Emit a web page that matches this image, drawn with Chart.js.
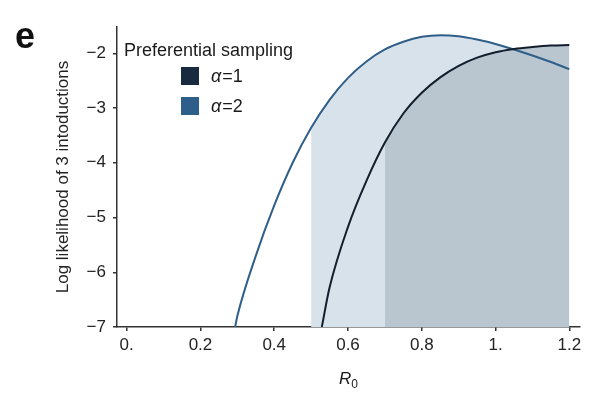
<!DOCTYPE html>
<html>
<head>
<meta charset="utf-8">
<script src="https://cdn.jsdelivr.net/npm/chart.js@4"></script>
<style>
  html, body { margin: 0; padding: 0; background: #fff; }
  #wrap { width: 596px; height: 404px; }
</style>
</head>
<body>
<div id="wrap"><canvas id="likelihood_chart" width="596" height="404"></canvas></div>
<script>
// R0 grid and log likelihood values
var r0Alpha1 = [0.529, 0.55, 0.60, 0.65, 0.70, 0.75, 0.80, 0.85, 0.90, 0.95, 1.00, 1.05, 1.10, 1.15, 1.20];
var llAlpha1 = [-7.0, -6.28, -5.17, -4.33, -3.63, -3.10, -2.72, -2.44, -2.23, -2.08, -1.98, -1.92, -1.885, -1.86, -1.85];

var r0Alpha2 = [0.294, 0.30, 0.35, 0.40, 0.45, 0.50, 0.55, 0.60, 0.65, 0.70, 0.75, 0.80, 0.85, 0.90, 0.95, 1.00, 1.05, 1.10, 1.15, 1.20];
var llAlpha2 = [-7.0, -6.80, -5.70, -4.78, -4.00, -3.36, -2.85, -2.45, -2.15, -1.93, -1.79, -1.70, -1.67, -1.69, -1.75, -1.83, -1.93, -2.04, -2.16, -2.29];

// shaded R0 ranges
var shadeAlpha1 = [0.7, 1.2];
var shadeAlpha2 = [0.5, 1.2];

var seriesLabels = ['1', '2'];
var lineColors = ['#121e2c', '#2f5f89'];
var boxColors = ['#172a40', '#2e5e8a'];
var fillColors = ['#b9c6cf', '#d8e2ea'];

var xTicks = [0, 0.2, 0.4, 0.6, 0.8, 1.0, 1.2];
var xTickLabels = ['0.', '0.2', '0.4', '0.6', '0.8', '1.', '1.2'];
var yTicks = [-7, -6, -5, -4, -3, -2];
var yTickLabels = ['\u22127', '\u22126', '\u22125', '\u22124', '\u22123', '\u22122'];

var FONT = '"Liberation Sans", Arial, Helvetica, sans-serif';

function toPoints(xs, ys) {
	return xs.map(function (x, i) { return { x: x, y: ys[i] }; });
}

function shadePoints(xs, ys, range) {
	return toPoints(xs, ys).filter(function (p) {
		return p.x >= range[0] - 1e-9 && p.x <= range[1] + 1e-9;
	});
}

var extrasPlugin = {
	id: 'extras',
	afterDraw: function (chart) {
		var ctx = chart.ctx;
		ctx.save();
		ctx.fillStyle = '#111';
		ctx.textBaseline = 'alphabetic';
		ctx.textAlign = 'left';

		// panel letter
		ctx.font = 'bold 36px ' + FONT;
		ctx.fillText('e', 15, 48);

		// legend
		ctx.font = '18px ' + FONT;
		ctx.fillStyle = '#1a1a1a';
		ctx.fillText('Preferential sampling', 124, 56);
		for (var i = 0; i < seriesLabels.length; i++) {
			var top = 67 + i * 30;
			ctx.fillStyle = boxColors[i];
			ctx.fillRect(181, top, 18, 18);
			ctx.fillStyle = '#1a1a1a';
			ctx.font = 'italic 18px ' + FONT;
			ctx.fillText('\u03b1', 211, top + 15);
			var w = ctx.measureText('\u03b1').width;
			ctx.font = '18px ' + FONT;
			ctx.fillText('=' + seriesLabels[i], 211 + w + 1, top + 15);
		}

		// x axis title R0
		var xs = chart.scales.x;
		var cx = (xs.left + xs.right) / 2;
		ctx.font = 'italic 17px ' + FONT;
		var rw = ctx.measureText('R').width;
		ctx.font = '12px ' + FONT;
		var zw = ctx.measureText('0').width;
		var sx = cx - (rw + zw) / 2;
		ctx.font = 'italic 17px ' + FONT;
		ctx.fillText('R', sx, 384);
		ctx.font = '12px ' + FONT;
		ctx.fillText('0', sx + rw, 388);
		ctx.restore();
	}
};

var chart = new Chart(document.getElementById('likelihood_chart'), {
	type: 'line',
	data: {
		datasets: [{
			label: 'alpha1',
			data: toPoints(r0Alpha1, llAlpha1),
			borderColor: lineColors[0],
			borderWidth: 2,
			pointRadius: 0,
			fill: false,
			cubicInterpolationMode: 'monotone'
		}, {
			label: 'alpha2',
			data: toPoints(r0Alpha2, llAlpha2),
			borderColor: lineColors[1],
			borderWidth: 2,
			pointRadius: 0,
			fill: false,
			cubicInterpolationMode: 'monotone'
		}, {
			label: 'shade1',
			data: shadePoints(r0Alpha1, llAlpha1, shadeAlpha1),
			borderWidth: 0,
			borderColor: 'rgba(0,0,0,0)',
			backgroundColor: fillColors[0],
			pointRadius: 0,
			fill: 'start',
			cubicInterpolationMode: 'monotone'
		}, {
			label: 'shade2',
			data: shadePoints(r0Alpha2, llAlpha2, shadeAlpha2),
			borderWidth: 0,
			borderColor: 'rgba(0,0,0,0)',
			backgroundColor: fillColors[1],
			pointRadius: 0,
			fill: 'start',
			cubicInterpolationMode: 'monotone'
		}]
	},
	options: {
		responsive: false,
		animation: false,
		layout: {
			padding: { left: 53, top: 27, right: 16, bottom: 0 }
		},
		plugins: {
			legend: { display: false },
			tooltip: { enabled: false }
		},
		scales: {
			x: {
				type: 'linear',
				min: -0.0263,
				max: 1.229,
				afterBuildTicks: function (s) {
					s.ticks = xTicks.map(function (v) { return { value: v }; });
				},
				afterFit: function (s) { s.height = 77; },
				ticks: {
					autoSkip: false,
					maxRotation: 0,
					padding: 4,
					color: '#222',
					font: { family: FONT, size: 17 },
					callback: function (v) {
						var i = xTicks.indexOf(v);
						return i >= 0 ? xTickLabels[i] : '';
					}
				},
				grid: {
					display: true,
					drawOnChartArea: false,
					drawTicks: true,
					tickLength: 4,
					color: '#333',
					lineWidth: 1.5
				},
				border: { display: true, color: '#333', width: 1.5 }
			},
			y: {
				type: 'linear',
				min: -7,
				max: -1.52,
				afterBuildTicks: function (s) {
					s.ticks = yTicks.map(function (v) { return { value: v }; });
				},
				afterFit: function (s) { s.width = 64; },
				ticks: {
					autoSkip: false,
					padding: 7,
					color: '#222',
					font: { family: FONT, size: 17 },
					callback: function (v) {
						var i = yTicks.indexOf(v);
						return i >= 0 ? yTickLabels[i] : '';
					}
				},
				grid: {
					display: true,
					drawOnChartArea: false,
					drawTicks: true,
					tickLength: 4,
					color: '#333',
					lineWidth: 1.5
				},
				border: { display: true, color: '#333', width: 1.5 },
				title: {
					display: true,
					text: 'Log likelihood of 3 intoductions',
					color: '#222',
					padding: 0,
					font: { family: FONT, size: 17 }
				}
			}
		}
	},
	plugins: [extrasPlugin]
});
</script>
</body>
</html>
